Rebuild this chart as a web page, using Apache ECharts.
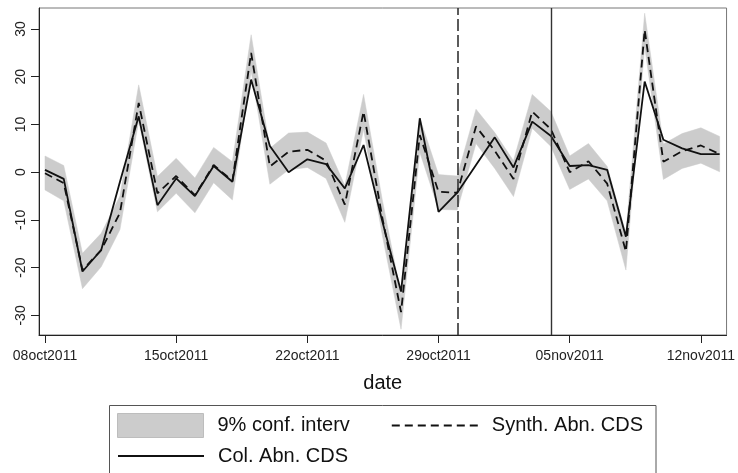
<!DOCTYPE html>
<html><head><meta charset="utf-8">
<script src="https://cdn.jsdelivr.net/npm/echarts@6/dist/echarts.min.js"></script>
<style>html,body{margin:0;padding:0;background:#fff}#c{width:738px;height:473px}</style>
</head><body><div id="c"></div>
<script>
// day index: 0 = 08oct2011 ... 36 = 13nov2011
const dayIndex = [0,1,2,3,4,5,6,7,8,9,10,11,12,13,14,15,16,17,18,19,20,21,22,23,24,25,26,27,28,29,30,31,32,33,34,35,36];
const colAbn   = [0.5,-1.4,-20.8,-16.3,-2.0,11.7,-6.9,-1.3,-5.0,1.3,-2.0,19.4,5.5,0.0,2.7,1.7,-3.4,5.7,-10.3,-25.0,11.3,-8.3,-4.3,1.5,7.3,1.0,10.6,7.6,1.3,1.5,0.5,-13.5,19.0,6.8,5.0,3.8,3.8];
const synthAbn = [-0.2,-2.3,-20.5,-16.3,-8.5,14.5,-4.4,-0.8,-4.8,1.5,-1.8,25.0,1.2,4.3,4.7,2.4,-6.8,12.7,-9.5,-29.3,7.8,-4.1,-4.3,9.6,4.5,-1.4,12.7,9.0,0.0,2.3,-2.4,-16.6,29.8,2.2,4.4,5.6,3.8];
const ciLow    = [-3.7,-6.0,-24.4,-19.8,-12.0,10.8,-8.3,-4.4,-8.5,-2.2,-5.8,21.2,-2.5,0.5,1.0,-1.3,-10.5,9.0,-13.2,-32.9,4.2,-7.8,-7.9,6.0,0.8,-5.1,9.2,5.4,-3.6,-1.4,-6.0,-20.5,26.3,-1.5,0.8,1.9,0.1];
const ciHigh   = [3.4,1.4,-17.0,-12.8,-5.0,18.3,-0.9,2.9,-1.2,5.2,2.2,28.8,5.0,8.2,8.4,6.1,-2.8,16.3,-5.8,-25.7,11.4,-0.5,-0.8,13.2,8.3,2.4,16.3,12.7,3.4,6.0,1.2,-12.8,33.3,5.9,8.1,9.3,7.5];
const tickDays   = [0,7,14,21,28,35];
const tickLabels = ['08oct2011','15oct2011','22oct2011','29oct2011','05nov2011','12nov2011'];
const yTicks = [-30,-20,-10,0,10,20,30];
const eventDashedDay = 22; // 30oct2011
const eventSolidDay = 27;  // 04nov2011

const pairs = arr => dayIndex.map((d, i) => [d, arr[i]]);
const bandRows = dayIndex.map((d, i) => [d, ciLow[i], ciHigh[i]]);
const sans = "'Liberation Sans',Arial,sans-serif";

function renderBand(params, api) {
  if (params.dataIndex !== 0) return null;
  const upper = [], lower = [];
  for (let i = 0; i < bandRows.length; i++) {
    upper.push(api.coord([bandRows[i][0], bandRows[i][2]]));
    lower.push(api.coord([bandRows[i][0], bandRows[i][1]]));
  }
  return {type: 'polygon', shape: {points: upper.concat(lower.reverse())},
          style: {fill: '#cccccc', stroke: '#cccccc', lineWidth: 0.5}, silent: true};
}

const lineLegendItem = name => ({name, itemStyle: {opacity: 0, color: 'rgba(0,0,0,0)', borderWidth: 0}});

const chart = echarts.init(document.getElementById('c'), null, {renderer: 'canvas'});
chart.setOption({
  animation: false,
  backgroundColor: '#fff',
  grid: {left: 39, right: 11, top: 8, bottom: 138, show: true, borderColor: '#777', borderWidth: 1, containLabel: false},
  xAxis: {
    type: 'value', min: -0.32, max: 36.37,
    axisLine: {show: true, onZero: false, lineStyle: {color: '#222', width: 1}},
    axisTick: {show: true, inside: false, length: 8, customValues: tickDays, lineStyle: {color: '#222'}},
    axisLabel: {customValues: tickDays, margin: 14, fontSize: 14, fontFamily: sans, color: '#222',
      formatter: v => tickLabels[tickDays.indexOf(Math.round(v))] || ''},
    splitLine: {show: false},
    name: 'date', nameLocation: 'middle', nameGap: 38,
    nameTextStyle: {fontSize: 20, fontFamily: sans, color: '#111'}
  },
  yAxis: {
    type: 'value', min: -34.1, max: 34.4,
    axisLine: {show: true, onZero: false, lineStyle: {color: '#222', width: 1}},
    axisTick: {show: true, inside: false, length: 8, customValues: yTicks, lineStyle: {color: '#222'}},
    axisLabel: {customValues: yTicks, rotate: 90, margin: 11, fontSize: 14, fontFamily: sans, color: '#222'},
    splitLine: {show: false}
  },
  legend: [
    {data: [{name: '9% conf. interv', icon: 'rect', itemStyle: {color: '#cccccc', borderColor: '#bdbdbd', borderWidth: 1}}, lineLegendItem('Synth. Abn. CDS')],
     left: 117, top: 413, orient: 'horizontal', itemWidth: 86, itemHeight: 24, itemGap: 41, padding: 0, selectedMode: false,
     textStyle: {fontSize: 20, fontFamily: sans, color: '#111', padding: [0, 0, 0, 9]}},
    {data: [lineLegendItem('Col. Abn. CDS')],
     left: 117, top: 446, orient: 'horizontal', itemWidth: 86, itemHeight: 24, padding: 0, selectedMode: false,
     textStyle: {fontSize: 20, fontFamily: sans, color: '#111', padding: [0, 0, 0, 9]}}
  ],
  graphic: [{type: 'rect', silent: true, shape: {x: 109.5, y: 405.5, width: 546.5, height: 90},
             style: {fill: 'none', stroke: '#555', lineWidth: 1}}],
  series: [
    {name: '9% conf. interv', type: 'custom', data: bandRows, renderItem: renderBand,
     encode: {x: 0, y: [1, 2]}, itemStyle: {color: '#cccccc'}, silent: true, z: 1, clip: true},
    {name: 'Synth. Abn. CDS', type: 'line', data: pairs(synthAbn), symbol: 'none', z: 3,
     itemStyle: {color: '#111'}, lineStyle: {color: '#111', width: 1.8, type: [8, 5]}},
    {name: 'Col. Abn. CDS', type: 'line', data: pairs(colAbn), symbol: 'none', z: 4,
     itemStyle: {color: '#111'}, lineStyle: {color: '#111', width: 1.8},
     markLine: {silent: true, symbol: ['none', 'none'], label: {show: false},
       data: [
         {xAxis: eventDashedDay, lineStyle: {color: '#333', width: 1.6, type: [12, 4]}},
         {xAxis: eventSolidDay, lineStyle: {color: '#333', width: 1.4, type: 'solid'}}
       ]}}
  ]
});
</script></body></html>
